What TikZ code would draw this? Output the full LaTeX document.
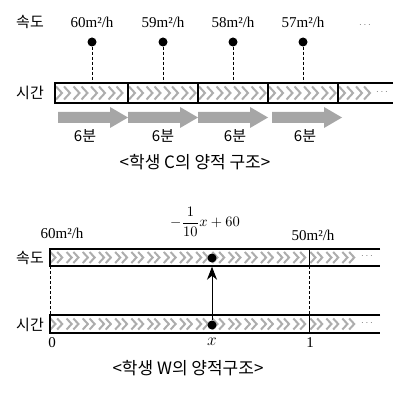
\documentclass[tikz,border=0pt]{standalone}
\usepackage{fontspec}
\setmainfont{Liberation Serif}
\newfontfamily\kr{Noto Sans CJK KR}
\usetikzlibrary{arrows.meta}
\begin{document}
\begin{tikzpicture}[x=1pt,y=-1pt,
  kor/.style={font=\kr\fontsize{15}{15}\selectfont, inner sep=0pt},
  captext/.style={font=\kr\fontsize{17}{17}\selectfont, inner sep=0pt},
  val/.style={font=\fontsize{15}{15}\selectfont, inner sep=0pt},
  dotn/.style={circle, fill=black, minimum size=9pt, inner sep=0pt},
  barline/.style={line width=1.4pt},
  guide/.style={line width=0.8pt, dash pattern=on 3pt off 2pt},
  chevline/.style={draw=black!32, line width=2pt},
  garrow/.style={fill=black!35, draw=none},
  more/.style={font=\fontsize{10}{10}\selectfont, text=black!55, inner sep=0pt},
  dchev/.pic={\draw[chevline] (-9,-6.5)--(-3,0)--(-9,6.5) (-1,-6.5)--(5,0)--(-1,6.5);}
]
\useasboundingbox (0,0) rectangle (393,398);
% ---------- top ----------
\node[kor] (sp1) at (30,22) {속도};
\node[kor] (tm1) at (30,93) {시간};
\foreach \a/\b in {55/128,128/198,198/268,268/338}
  \foreach \i in {0,...,3} \pic at ({\a+10+17.5*\i},93) {dchev};
\pic at (348,93) {dchev};
\pic at (365,93) {dchev};
\node[more] (m1) at (382,92) {$\cdots$};
\foreach \a/\b in {55/128,128/198,198/268,268/338}
  \draw[barline] (\a,83) rectangle (\b,103);
\draw[barline] (393,83) -- (338,83) -- (338,103) -- (393,103);
\foreach \x/\v [count=\k] in {92/60,163/59,233/58,303/57}{
  \node[val] (v\k) at (\x,22) {\v m²/h};
  \node[dotn] (d\k) at (\x,42) {};
  \coordinate (b\k) at (\x,83);
  \draw[guide] (d\k) -- (b\k);
}
\node[more] (m0) at (365,25) {$\cdots$};
\foreach \s in {58,128,198,272}
  \fill[garrow] (\s,112) -- (\s+52,112) -- (\s+52,107) -- (\s+70,117.5)
     -- (\s+52,128) -- (\s+52,123) -- (\s,123) -- cycle;
\foreach \x [count=\k] in {85,163,235,305}
  \node[kor] (t\k) at (\x,136) {6분};
\node[captext] (cap1) at (195,162) {<학생 C의 양적 구조>};
% ---------- bottom ----------
\node[kor] (sp2) at (30,258) {속도};
\node[kor] (tm2) at (30,325) {시간};
\foreach \y in {257.5,324}{
  \foreach \i in {0,...,15} \pic[scale=0.85] at ({58+16.2*\i},\y) {dchev};
  \foreach \x in {318,334,350} \pic[scale=0.85] at (\x,\y) {dchev};
  \node[more] at (367,\y-1) {$\cdots$};
}
\draw[barline] (380,249) -- (50,249) -- (50,266) -- (380,266);
\draw[line width=0.8pt] (309,249) -- (309,266);
\draw[barline] (380,315) -- (50,315) -- (50,333) -- (380,333);
\draw[line width=0.8pt] (309,315) -- (309,333);
\coordinate (l1) at (50,266); \coordinate (l2) at (50,315);
\coordinate (r1) at (309,266); \coordinate (r2) at (309,315);
\draw[guide] (l1) -- (l2);
\draw[guide] (r1) -- (r2);
\node[dotn] (ds) at (212,258) {};
\node[dotn] (dt) at (212,325) {};
\draw[-{Stealth[length=13pt,width=10pt,inset=4pt]}, line width=0.9pt, shorten >=4pt] (dt) -- (ds);
\node[scale=1.45, inner sep=0pt] (fx) at (205,222) {$\displaystyle -\frac{1}{10}x+60$};
\node[val] (w1) at (62,233) {60m²/h};
\node[val] (w2) at (313,235) {50m²/h};
\node[val] (z0) at (52,343) {0};
\node[font=\fontsize{16}{16}\selectfont, inner sep=0pt] (zx) at (212,342) {$x$};
\node[val] (z1) at (310,343) {1};
\node[captext] (cap2) at (188,368) {<학생 W의 양적구조>};
\end{tikzpicture}
\end{document}
